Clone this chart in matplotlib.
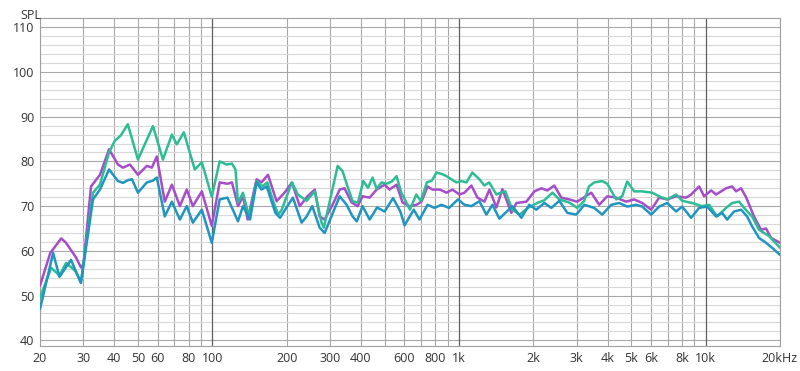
import numpy as np
import matplotlib.pyplot as plt
from matplotlib.ticker import FixedLocator, NullFormatter

plt.rcParams['font.family'] = ['Open Sans', 'DejaVu Sans']

# measured curves (Hz, dB SPL)
freq_green = [20, 22.2, 24.0, 25.5, 26.7, 28.0, 29.3, 32.8, 35.0, 38.1, 40.2, 42.5, 45.4, 49.9,
              57.4, 63.0, 68.5, 71.7, 76.6, 84.8, 90.6, 99.4, 107, 114, 120, 124, 127, 133,
              141, 151, 159, 167, 177, 185, 191, 210, 222, 241, 260, 277, 283, 322, 337, 353,
              370, 389, 409, 427, 446, 463, 485, 508, 534, 558, 583, 609, 632, 671, 700, 740,
              775, 810, 850, 889, 930, 975, 1022, 1071, 1132, 1209, 1265, 1325, 1417, 1457,
              1540, 1644, 1760, 1900, 2090, 2216, 2390, 2548, 2798, 3014, 3218, 3360, 3532,
              3805, 3987, 4335, 4584, 4803, 5128, 5525, 6064, 6472, 6974, 7584, 8022, 8806,
              9666, 10319, 11118, 12090, 12786, 13648, 14300, 15406, 16444, 18052, 20000]
spl_green = [49.5, 56.2, 54.5, 57.3, 56.4, 55.3, 53.0, 73.0, 74.8, 82.0, 84.6, 85.8, 88.3, 80.4,
             87.9, 80.4, 86.0, 83.8, 86.5, 78.2, 79.8, 72.1, 80.0, 79.3, 79.5, 78.2, 70.8, 73.0,
             67.4, 75.6, 74.4, 75.3, 70.8, 68.1, 69.2, 75.3, 72.6, 71.2, 73.3, 66.3, 65.2, 79.0,
             77.8, 74.4, 71.1, 70.8, 75.6, 74.1, 76.4, 73.9, 75.3, 75.0, 75.5, 76.7, 73.0, 71.0,
             69.2, 72.6, 71.1, 75.3, 75.7, 77.5, 77.2, 76.7, 76.0, 75.3, 75.6, 75.3, 77.5, 76.0,
             74.6, 75.3, 72.6, 72.9, 73.3, 69.2, 68.1, 69.6, 70.8, 71.3, 73.0, 71.5, 70.8, 69.6,
             71.2, 74.4, 75.3, 75.6, 75.0, 71.5, 72.2, 75.5, 73.3, 73.3, 73.0, 72.2, 71.5, 72.6,
             71.2, 70.7, 70.0, 70.3, 67.7, 69.6, 70.7, 71.0, 69.6, 67.7, 64.7, 63.3, 60.7]

freq_purple = [20, 22.0, 24.4, 25.5, 28.0, 29.3, 30.0, 32.2, 35.0, 38.1, 41.4, 43.4, 46.3, 49.9,
               54.2, 56.8, 59.5, 64.1, 68.5, 73.8, 78.7, 83.3, 90.6, 99.4, 107, 115, 120, 127,
               133, 139, 151, 158, 168, 182, 196, 210, 226, 243, 260, 272, 285, 307, 328, 343,
               367, 388, 406, 434, 463, 499, 522, 558, 590, 630, 672, 704, 745, 780, 836, 889,
               940, 1003, 1051, 1122, 1187, 1267, 1327, 1417, 1498, 1629, 1707, 1874, 2019,
               2154, 2279, 2432, 2596, 2798, 3014, 3218, 3434, 3700, 3987, 4335, 4758, 5128,
               5525, 6008, 6472, 6974, 7584, 8326, 8724, 9400, 9848, 10513, 11014, 12090,
               12786, 13271, 13904, 14568, 15694, 16752, 17554, 18392, 20000]
spl_purple = [52.2, 59.5, 62.8, 61.8, 58.5, 56.3, 57.0, 74.4, 77.0, 82.7, 79.3, 78.6, 79.3, 77.0,
              79.0, 78.6, 81.1, 71.0, 74.8, 70.0, 73.7, 70.0, 73.3, 65.6, 75.3, 75.0, 75.3, 70.0,
              72.2, 67.0, 76.0, 75.3, 77.0, 71.1, 73.0, 75.3, 70.0, 72.2, 73.7, 67.7, 67.0, 70.3,
              73.7, 74.0, 70.8, 70.0, 72.2, 71.9, 73.7, 74.8, 73.7, 74.8, 70.8, 70.0, 70.3, 71.0,
              74.4, 73.7, 73.7, 73.0, 73.7, 72.6, 73.0, 74.6, 71.9, 71.0, 73.7, 69.7, 73.8, 68.5,
              70.7, 71.0, 73.3, 74.0, 73.5, 74.6, 71.9, 71.5, 71.0, 72.0, 73.0, 70.3, 72.2, 71.9,
              71.0, 71.5, 70.7, 69.2, 71.9, 71.5, 72.2, 71.9, 72.6, 74.4, 72.2, 73.5, 72.6, 74.0,
              74.4, 73.3, 74.0, 72.0, 67.7, 64.7, 65.0, 62.9, 61.8]

freq_blue = [20, 22.6, 24.0, 26.7, 29.3, 32.8, 35.0, 38.1, 41.4, 43.4, 45.4, 47.2, 49.9, 54.2,
             57.4, 59.5, 64.1, 68.5, 73.8, 78.7, 83.3, 90.6, 99.4, 107, 115, 127, 133, 142,
             151, 158, 166, 180, 188, 203, 212, 230, 241, 254, 272, 285, 328, 350, 370, 385,
             406, 434, 465, 499, 540, 578, 601, 655, 691, 745, 795, 848, 910, 990, 1051, 1122,
             1209, 1290, 1365, 1457, 1644, 1788, 1926, 2056, 2216, 2366, 2548, 2746, 2986,
             3218, 3532, 3805, 4138, 4457, 4803, 5224, 5525, 6008, 6472, 6974, 7584, 8022,
             8724, 9400, 10128, 11014, 11648, 12204, 13026, 13904, 14706, 15406, 16444,
             17554, 18562, 20000]
spl_blue = [47.0, 59.5, 54.2, 58.0, 52.8, 71.5, 73.7, 78.2, 75.6, 75.2, 75.8, 76.0, 73.0, 75.3,
            75.7, 76.4, 67.7, 71.0, 67.0, 70.0, 66.3, 69.2, 61.8, 71.5, 71.9, 66.6, 70.0, 67.0,
            75.3, 73.7, 74.4, 68.5, 67.4, 70.3, 71.9, 66.3, 67.7, 70.0, 65.2, 64.0, 72.2, 70.3,
            67.7, 66.6, 70.0, 67.0, 69.7, 68.8, 71.8, 68.8, 65.7, 69.2, 67.0, 70.3, 69.6, 70.3,
            69.6, 71.5, 70.3, 70.0, 71.1, 68.1, 70.3, 67.2, 70.0, 67.4, 70.3, 69.2, 70.7, 69.6,
            71.2, 68.5, 68.1, 70.3, 69.6, 68.1, 70.3, 70.7, 69.9, 70.3, 69.9, 68.1, 69.9, 70.7,
            68.8, 69.9, 67.4, 69.6, 69.9, 67.7, 68.5, 67.0, 68.8, 69.2, 67.7, 65.5, 62.9, 61.8,
            60.7, 59.1]

xtick_vals = [20, 30, 40, 50, 60, 80, 100, 200, 300, 400, 600, 800, 1000,
              2000, 3000, 4000, 5000, 6000, 8000, 10000, 20000]
xtick_labels = ['20', '30', '40', '50', '60', '80', '100', '200', '300', '400', '600', '800',
                '1k', '2k', '3k', '4k', '5k', '6k', '8k', '10k', '20kHz']
ytick_vals = [40, 50, 60, 70, 80, 90, 100, 110]

fig = plt.figure(figsize=(8, 3.71), dpi=100)
ax = fig.add_axes([0.05, 0.067, 0.925, 0.885])

line_kw = dict(lw=1.8, solid_joinstyle='round', solid_capstyle='round')
ax.plot(freq_purple, spl_purple, color='#a64dc9', zorder=3, **line_kw)
ax.plot(freq_green, spl_green, color='#2dbd94', zorder=4, **line_kw)
ax.plot(freq_blue, spl_blue, color='#1f95c0', zorder=5, **line_kw)

ax.set_xscale('log')
ax.set_xlim(20, 20000)
ax.set_ylim(38.7, 112.1)

ax.xaxis.set_major_locator(FixedLocator(xtick_vals))
ax.set_xticklabels(xtick_labels)
minor_x = [m * d for d in (10, 100, 1000, 10000) for m in range(2, 10) if m * d <= 20000]
ax.xaxis.set_minor_locator(FixedLocator(minor_x))
ax.xaxis.set_minor_formatter(NullFormatter())
ax.xaxis.remove_overlapping_locs = False

ax.set_yticks(ytick_vals)
ax.set_yticks(np.arange(40, 112, 2), minor=True)

ax.grid(False)
ax.grid(axis='x', which='minor', color='#a8a8a8', lw=0.8, zorder=1)
ax.grid(axis='y', which='minor', color='#d8d8d8', lw=0.8, zorder=1)
ax.grid(axis='y', which='major', color='#a8a8a8', lw=0.8, zorder=1)
for d in (100, 1000, 10000):
    ax.axvline(d, color='#606060', lw=0.9, zorder=2)

ax.tick_params(which='both', length=0, labelsize=9, colors='#333333', pad=4)
for s in ax.spines.values():
    s.set_color('#a0a0a0')
    s.set_linewidth(0.8)

fig.text(0.025, 0.975, 'SPL', fontsize=9, color='#333333', va='top', ha='left')

fig.savefig('out.png', dpi=100)
